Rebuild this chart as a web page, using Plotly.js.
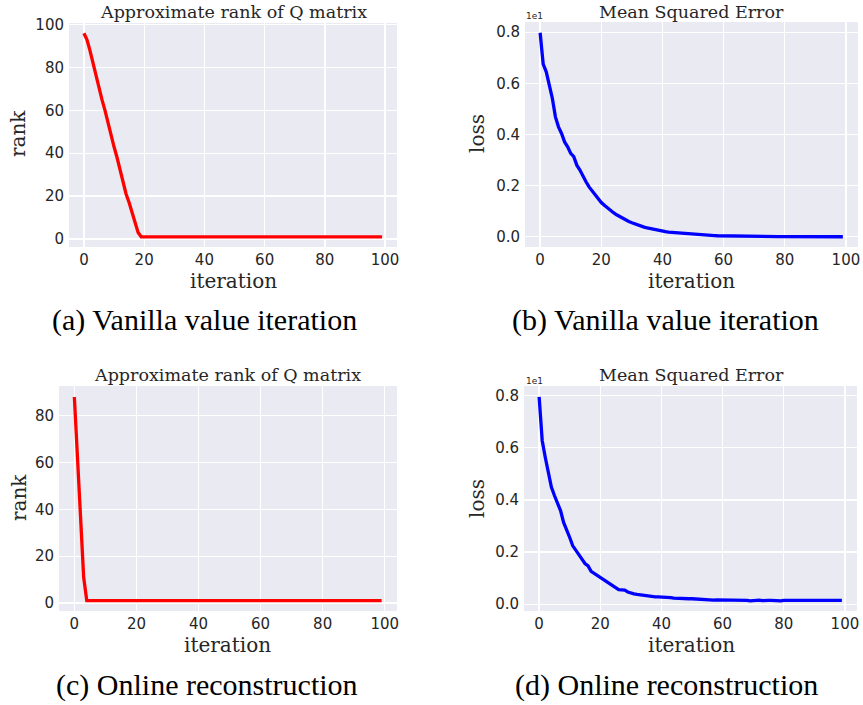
<!DOCTYPE html>
<html>
<head>
<meta charset="utf-8">
<script src="https://cdn.plot.ly/plotly-3.0.1.min.js"></script>
<style>
  html, body { margin: 0; padding: 0; background: #ffffff; }
  #chart { width: 863px; height: 705px; }
</style>
</head>
<body>
<div id="chart"></div>
<script>
// Iteration index shared by all four panels
const iterations = [
  0,1,2,3,4,5,6,7,8,9,10,11,12,13,14,15,16,17,18,19,
  20,21,22,23,24,25,26,27,28,29,30,31,32,33,34,35,36,37,38,39,
  40,41,42,43,44,45,46,47,48,49,50,51,52,53,54,55,56,57,58,59,
  60,61,62,63,64,65,66,67,68,69,70,71,72,73,74,75,76,77,78,79,
  80,81,82,83,84,85,86,87,88,89,90,91,92,93,94,95,96,97,98,99
];

// (a) approximate rank of Q, vanilla value iteration
const rankVanilla = [
  96,93,88,82,77,71,65,60,54,49,43,38,32,27,21,17,12,7,3,1,
  1,1,1,1,1,1,1,1,1,1,1,1,1,1,1,1,1,1,1,1,
  1,1,1,1,1,1,1,1,1,1,1,1,1,1,1,1,1,1,1,1,
  1,1,1,1,1,1,1,1,1,1,1,1,1,1,1,1,1,1,1,1,
  1,1,1,1,1,1,1,1,1,1,1,1,1,1,1,1,1,1,1,1
];

// (b) mean squared error, vanilla value iteration
const lossVanilla = [
  7.98, 6.75, 6.45, 5.93, 5.41, 4.69, 4.30, 4.04, 3.71, 3.52,
  3.26, 3.13, 2.80, 2.61, 2.35, 2.15, 1.95, 1.80, 1.60, 1.49,
  1.34, 1.23, 1.12, 1.03, 0.94, 0.86, 0.79, 0.72, 0.66, 0.60,
  0.55, 0.50, 0.46, 0.42, 0.38, 0.35, 0.32, 0.29, 0.27, 0.25,
  0.22, 0.20, 0.18, 0.17, 0.15, 0.14, 0.13, 0.12, 0.11, 0.10,
  0.09, 0.08, 0.07, 0.065, 0.06, 0.055, 0.05, 0.045, 0.04, 0.037,
  0.034, 0.030, 0.028, 0.025, 0.023, 0.021, 0.019, 0.017, 0.016, 0.014,
  0.013, 0.012, 0.011, 0.010, 0.009, 0.008, 0.007, 0.007, 0.006, 0.006,
  0.005, 0.005, 0.004, 0.004, 0.004, 0.003, 0.003, 0.003, 0.003, 0.002,
  0.002, 0.002, 0.002, 0.002, 0.002, 0.001, 0.001, 0.001, 0.001, 0.001
];

// (c) approximate rank of Q, online reconstruction
const rankOnline = [
  88,64,38,11,1,1,1,1,1,1,1,1,1,1,1,1,1,1,1,1,
  1,1,1,1,1,1,1,1,1,1,1,1,1,1,1,1,1,1,1,1,
  1,1,1,1,1,1,1,1,1,1,1,1,1,1,1,1,1,1,1,1,
  1,1,1,1,1,1,1,1,1,1,1,1,1,1,1,1,1,1,1,1,
  1,1,1,1,1,1,1,1,1,1,1,1,1,1,1,1,1,1,1,1
];

// (d) mean squared error, online reconstruction
const lossOnline = [
  7.95, 6.28, 5.64, 5.00, 4.49, 4.17, 3.91, 3.59, 3.14, 2.88,
  2.56, 2.24, 2.05, 1.92, 1.73, 1.56, 1.47, 1.26, 1.18, 1.12,
  1.03, 0.94, 0.86, 0.79, 0.71, 0.62, 0.56, 0.55, 0.54, 0.47,
  0.42, 0.40, 0.38, 0.36, 0.34, 0.32, 0.30, 0.29, 0.28, 0.28,
  0.28, 0.27, 0.27, 0.25, 0.23, 0.22, 0.21, 0.20, 0.20, 0.21,
  0.21, 0.20, 0.19, 0.18, 0.17, 0.16, 0.16, 0.16, 0.17, 0.17,
  0.16, 0.17, 0.17, 0.17, 0.16, 0.16, 0.16, 0.15, 0.15, 0.13,
  0.15, 0.16, 0.16, 0.14, 0.13, 0.15, 0.15, 0.14, 0.14, 0.13,
  0.15, 0.15, 0.15, 0.14, 0.15, 0.15, 0.14, 0.15, 0.15, 0.15,
  0.14, 0.14, 0.14, 0.14, 0.13, 0.13, 0.14, 0.15, 0.15, 0.15
];

// Tick marks and labels
const iterTicks = [0, 20, 40, 60, 80, 100];
const rankTicksTop = [0, 20, 40, 60, 80, 100];
const rankTicksBottom = [0, 20, 40, 60, 80];
const lossTickVals = [0, 2, 4, 6, 8];
const lossTickText = ['0.0', '0.2', '0.4', '0.6', '0.8'];

const panelTitles = ['Approximate rank of Q matrix', 'Mean Squared Error',
                     'Approximate rank of Q matrix', 'Mean Squared Error'];
const captions = ['(a) Vanilla value iteration', '(b) Vanilla value iteration',
                  '(c) Online reconstruction', '(d) Online reconstruction'];

const W = 863, H = 705;
const px = x => x / W;
const py = y => 1 - y / H;

const BG = '#EAEAF2';
const INK = '#262626';
const TICKFONT = { family: 'DejaVu Sans', size: 15, color: INK };
const SERIF = 'DejaVu Serif';

function xAxis(left, right, anchor) {
  return {
    domain: [px(left), px(right)], anchor: anchor,
    range: [-4.95, 103.95], tickvals: iterTicks,
    showgrid: true, gridcolor: '#ffffff', gridwidth: 1.3,
    zeroline: false, showline: false, ticks: '', ticklabelstandoff: 2,
    tickfont: TICKFONT, fixedrange: true
  };
}
function yAxis(top, bottom, anchor, range, vals, text) {
  const a = {
    domain: [py(bottom), py(top)], anchor: anchor,
    range: range, tickvals: vals,
    showgrid: true, gridcolor: '#ffffff', gridwidth: 1.3,
    zeroline: false, showline: false, ticks: '', ticklabelstandoff: 4,
    tickfont: TICKFONT, fixedrange: true
  };
  if (text) a.ticktext = text;
  return a;
}

const traces = [
  { x: iterations, y: rankVanilla, xaxis: 'x', yaxis: 'y', type: 'scatter', mode: 'lines',
    line: { color: '#ff0000', width: 3.3 }, hoverinfo: 'skip' },
  { x: iterations, y: lossVanilla, xaxis: 'x2', yaxis: 'y2', type: 'scatter', mode: 'lines',
    line: { color: '#0000ff', width: 3.3 }, hoverinfo: 'skip' },
  { x: iterations, y: rankOnline, xaxis: 'x3', yaxis: 'y3', type: 'scatter', mode: 'lines',
    line: { color: '#ff0000', width: 3.3 }, hoverinfo: 'skip' },
  { x: iterations, y: lossOnline, xaxis: 'x4', yaxis: 'y4', type: 'scatter', mode: 'lines',
    line: { color: '#0000ff', width: 3.3 }, hoverinfo: 'skip' }
];

function label(text, x, y, size, family, angle) {
  return {
    text: text, xref: 'paper', yref: 'paper', x: px(x), y: py(y),
    xanchor: 'center', yanchor: 'middle', showarrow: false,
    textangle: angle || 0,
    font: { family: family, size: size, color: INK }
  };
}
function capLabel(text, x, y) {
  return {
    text: text, xref: 'paper', yref: 'paper', x: px(x), y: py(y),
    xanchor: 'center', yanchor: 'middle', showarrow: false,
    font: { family: 'Liberation Serif', size: 30, color: '#000000' }
  };
}
function offsetLabel(x, y) {
  return {
    text: '1e1', xref: 'paper', yref: 'paper', x: px(x), y: py(y),
    xanchor: 'left', yanchor: 'middle', showarrow: false,
    font: { family: 'DejaVu Sans', size: 9, color: INK }
  };
}

const annotations = [
  label(panelTitles[0], 233, 12, 17.5, SERIF),
  label(panelTitles[1], 691, 12, 17.5, SERIF),
  label(panelTitles[2], 228, 375, 17.5, SERIF),
  label(panelTitles[3], 691, 375, 17.5, SERIF),
  label('iteration', 233, 281, 20, SERIF),
  label('iteration', 691, 281, 20, SERIF),
  label('iteration', 228, 645, 20, SERIF),
  label('iteration', 691, 645, 20, SERIF),
  label('rank', 18, 134, 20, SERIF, -90),
  label('loss', 477, 134, 20, SERIF, -90),
  label('rank', 19, 498, 20, SERIF, -90),
  label('loss', 477, 499, 20, SERIF, -90),
  offsetLabel(524, 16),
  offsetLabel(524, 381),
  capLabel(captions[0], 204, 320),
  capLabel(captions[1], 665, 320),
  capLabel(captions[2], 207, 685),
  capLabel(captions[3], 666, 685)
];

const layout = {
  width: W, height: H,
  margin: { l: 0, r: 0, t: 0, b: 0 },
  paper_bgcolor: '#ffffff', plot_bgcolor: BG,
  showlegend: false,
  xaxis:  xAxis(69, 397, 'y'),
  yaxis:  yAxis(23, 247, 'x', [-3.75, 100.75], rankTicksTop),
  xaxis2: xAxis(525, 858, 'y2'),
  yaxis2: yAxis(22, 247, 'x2', [-0.4, 8.4], lossTickVals, lossTickText),
  xaxis3: xAxis(59, 397, 'y3'),
  yaxis3: yAxis(386, 611, 'x3', [-3.4, 92.7], rankTicksBottom),
  xaxis4: xAxis(524, 857, 'y4'),
  yaxis4: yAxis(386, 611, 'x4', [-0.26, 8.37], lossTickVals, lossTickText),
  annotations: annotations
};

Plotly.newPlot('chart', traces, layout, { staticPlot: true, displayModeBar: false });
</script>
</body>
</html>
